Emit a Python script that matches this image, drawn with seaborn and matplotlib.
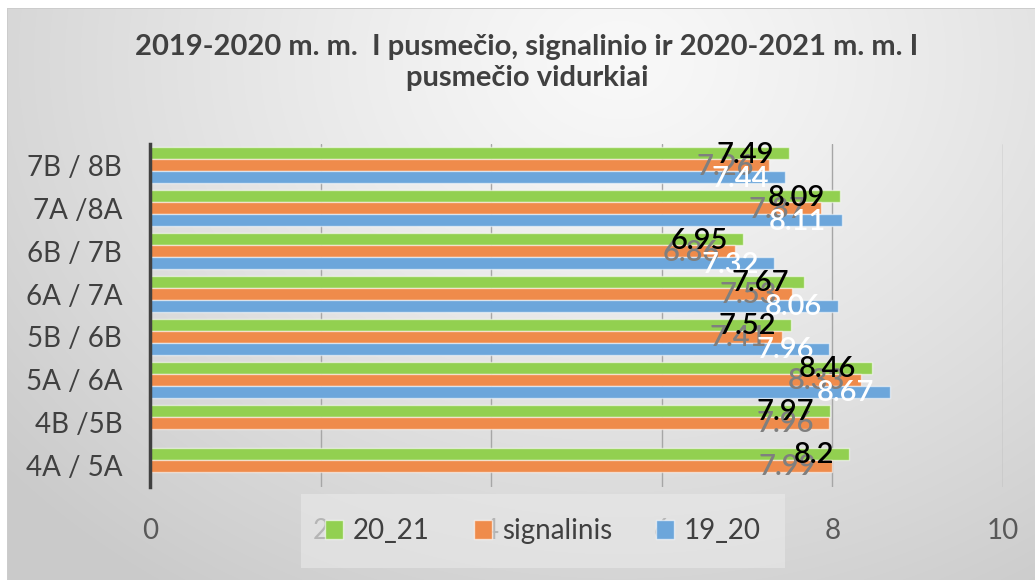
import numpy as np
import pandas as pd
import seaborn as sns
import matplotlib

matplotlib.use("Agg")
import matplotlib.pyplot as plt
from matplotlib.patches import Patch

# ----------------------------------------------------------------------
# Data (top to bottom, as shown in the chart)
# ----------------------------------------------------------------------
classes = ["7B / 8B", "7A /8A", "6B / 7B", "6A / 7A",
           "5B / 6B", "5A / 6A", "4B /5B", "4A / 5A"]
avg_20_21 = [7.49, 8.09, 6.95, 7.67, 7.52, 8.46, 7.97, 8.2]
avg_signalinis = [7.26, 7.87, 6.86, 7.53, 7.41, 8.33, 7.96, 7.99]
avg_19_20 = [7.44, 8.11, 7.32, 8.06, 7.96, 8.67, np.nan, np.nan]

series_names = ["20_21", "signalinis", "19_20"]
series_values = [avg_20_21, avg_signalinis, avg_19_20]
series_colors = ["#92D050", "#EF8B4B", "#6CA6DB"]
label_colors = ["#000000", "#7F7F7F", "#FFFFFF"]
label_zorder = [7, 5, 6]

title = ("2019-2020 m. m.  I pusmečio, signalinio ir 2020-2021 m. m. I\n"
         "pusmečio vidurkiai")


def make_background(width=1035, height=580):
    # Soft radial gray gradient like the Excel chart area, white margin top/left.
    yy, xx = np.mgrid[0:height, 0:width]
    dist = np.sqrt((xx - 620.0) ** 2 + ((yy - 60.0) / 0.8) ** 2)
    val = 0.975 - 0.18 * np.clip(dist / 800.0, 0, 1) ** 1.2
    img = np.dstack([val, val, val])
    img[:8, :, :] = 1.0
    img[:, :7, :] = 1.0
    img[8, 7:, :] = 0.80
    img[8:, 7, :] = 0.80
    return img


def main():
    sns.set_style("white")
    plt.rcParams["font.family"] = ["Lato", "DejaVu Sans"]

    df = pd.DataFrame({
        "klase": classes * len(series_names),
        "serija": np.repeat(series_names, len(classes)),
        "vidurkis": np.concatenate(series_values),
    })

    fig = plt.figure(figsize=(10.35, 5.8), dpi=100)
    fig.patch.set_facecolor("white")

    bg = fig.add_axes([0, 0, 1, 1], zorder=-10)
    bg.imshow(make_background(), aspect="auto", interpolation="bilinear")
    bg.set_axis_off()

    ax = fig.add_axes([150 / 1035, 1 - 487 / 580, 853 / 1035, 343 / 580])
    ax.set_facecolor("none")

    sns.barplot(
        data=df, x="vidurkis", y="klase", hue="serija", orient="h",
        order=classes, hue_order=series_names, palette=series_colors,
        width=0.84, errorbar=None, legend=False, ax=ax,
        edgecolor=(1, 1, 1, 0.55), linewidth=1, saturation=1, zorder=3,
    )

    # Data labels: right aligned a little inside the end of each bar.
    for container, vals, color, z in zip(ax.containers, series_values,
                                         label_colors, label_zorder):
        shown = [v for v in vals if not np.isnan(v)]
        for bar, v in zip(container, shown):
            ax.annotate(
                f"{v:g}",
                xy=(bar.get_width(), bar.get_y() + bar.get_height() / 2),
                xytext=(-11, -1), textcoords="offset points",
                ha="right", va="center", fontsize=21, color=color,
                fontweight="semibold", zorder=z, annotation_clip=False,
            )

    ax.set_xlim(0, 10)
    ax.set_xticks(range(0, 11, 2))
    ax.set_xlabel("")
    ax.set_ylabel("")
    ax.grid(axis="x", color="#A6A6A6", linewidth=1, zorder=0)
    ax.grid(axis="y", visible=False)
    ax.set_axisbelow(True)
    for side in ["top", "right", "bottom"]:
        ax.spines[side].set_visible(False)
    ax.spines["left"].set_color("#404040")
    ax.spines["left"].set_linewidth(2.5)
    ax.spines["left"].set_zorder(4)
    ax.tick_params(axis="x", length=5, width=1, color="#A6A6A6", pad=17,
                   labelsize=20, labelcolor="#595959", direction="out")
    ax.tick_params(axis="y", length=0, pad=20, labelsize=20,
                   labelcolor="#404040")

    fig.text(527 / 1035, 1 - 34 / 580, title, ha="center", va="top",
             fontsize=21, fontweight="bold", color="#404040", linespacing=1.25)

    handles = [Patch(facecolor=c, edgecolor=(1, 1, 1, 0.6), linewidth=1)
               for c in series_colors]
    fig.legend(
        handles, series_names, loc="center", ncol=3,
        bbox_to_anchor=(543 / 1035, 1 - 531 / 580),
        fontsize=20, labelcolor="#404040", frameon=True,
        facecolor="#E8E8E8", edgecolor="none", framealpha=0.65, fancybox=False,
        handlelength=0.65, handleheight=0.65, handletextpad=0.35,
        columnspacing=1.6, borderpad=0.85, borderaxespad=0,
    )

    fig.savefig("out.png", dpi=100)
    plt.close(fig)


if __name__ == "__main__":
    main()
